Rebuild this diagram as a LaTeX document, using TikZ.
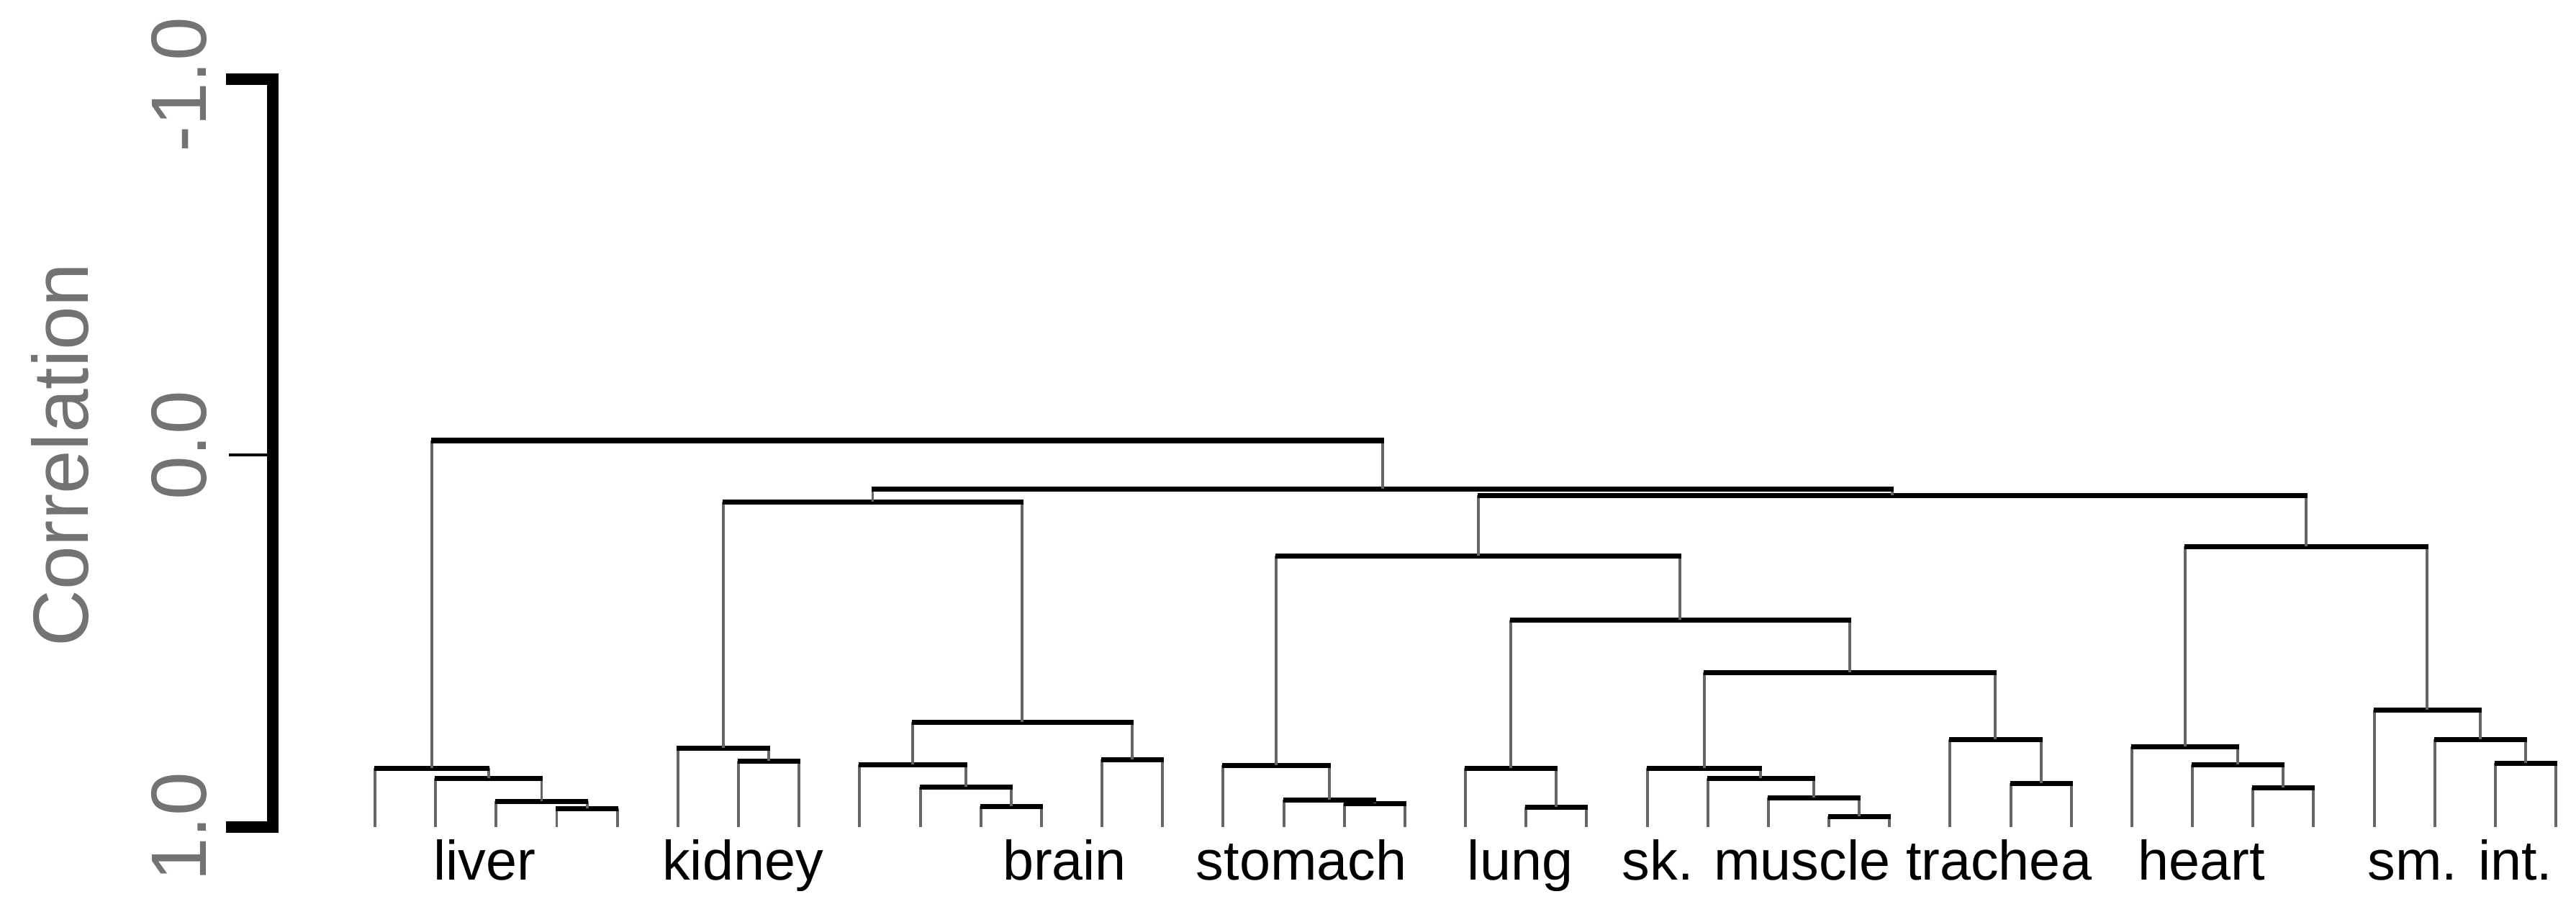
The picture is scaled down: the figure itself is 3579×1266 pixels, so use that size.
\documentclass[tikz,border=0pt]{standalone}
\usepackage{fontspec}
\setmainfont{Liberation Sans}
\begin{document}
\begin{tikzpicture}[x=0.01cm,y=-0.01cm,
  vl/.style={draw=black!60,line width=1.1pt},
  hb/.style={draw=black,line width=2pt},
  lab/.style={font=\fontsize{22}{24}\selectfont,text=black,anchor=base},
  axl/.style={font=\fontsize{31}{33}\selectfont,text=black!55,rotate=90}]
\useasboundingbox (0,0) rectangle (3579,1266);
\newcommand\mg[5]{\draw[vl] (#1,#2)--(#1,#5); \draw[vl] (#3,#4)--(#3,#5); \draw[hb] (#1-1.5,#5)--(#3+1.5,#5);}
\def\B{1149}
% axis
\draw[line width=4.3pt] (314,110)--(379,110)--(379,1149)--(314,1149);
\draw[line width=1.2pt] (318,632)--(379,632);
\node[axl] (ax1) at (249,118) {-1.0};
\node[axl] (ax0) at (249,619) {0.0};
\node[axl] (axm) at (249,1149) {1.0};
\node[axl] (corr) at (84,632) {Correlation};
% liver
\mg{773.5}{\B}{857.7}{\B}{1123}
\mg{689.3}{\B}{815.6}{1123}{1113}
\mg{605.2}{\B}{752.5}{1113}{1081}
\mg{521}{\B}{678.9}{1081}{1067}
% kidney
\mg{1026}{\B}{1110}{\B}{1057}
\mg{941.9}{\B}{1068}{1057}{1039}
% brain
\mg{1363}{\B}{1447}{\B}{1120}
\mg{1279}{\B}{1405}{1120}{1093}
\mg{1194}{\B}{1342}{1093}{1062}
\mg{1531}{\B}{1615}{\B}{1055}
\mg{1268}{1062}{1573}{1055}{1003}
\mg{1005}{1039}{1420}{1003}{697}
% stomach
\mg{1868}{\B}{1952}{\B}{1116}
\mg{1784}{\B}{1910}{1116}{1111}
\mg{1699}{\B}{1847}{1111}{1063}
% lung
\mg{2120}{\B}{2204}{\B}{1121}
\mg{2036}{\B}{2162}{1121}{1067}
% sk muscle
\mg{2541}{\B}{2625}{\B}{1134}
\mg{2457}{\B}{2583}{1134}{1108}
\mg{2373}{\B}{2520}{1108}{1081}
\mg{2289}{\B}{2446}{1081}{1067}
% trachea
\mg{2794}{\B}{2878}{\B}{1088}
\mg{2709}{\B}{2836}{1088}{1027}
\mg{2368}{1067}{2772}{1027}{934}
\mg{2099}{1067}{2570}{934}{861}
\mg{1773}{1063}{2334}{861}{772}
% heart
\mg{3130}{\B}{3214}{\B}{1094}
\mg{3046}{\B}{3172}{1094}{1062}
\mg{2962}{\B}{3109}{1062}{1037}
% sm int
\mg{3467}{\B}{3551}{\B}{1060}
\mg{3383}{\B}{3509}{1060}{1027}
\mg{3299}{\B}{3446}{1027}{986}
\mg{3036}{1037}{3372}{986}{759}
\mg{2054}{772}{3204}{759}{688}
\mg{1212.5}{697}{2629}{688}{679}
\mg{600}{1067}{1921}{679}{612}
% labels
\node[lab] (l1) at (673,1222) {liver};
\node[lab] (l2) at (1032,1222) {kidney};
\node[lab] (l3) at (1479,1222) {brain};
\node[lab] (l4) at (1808,1222) {stomach};
\node[lab] (l5) at (2112,1222) {lung};
\node[lab] (l6) at (2440,1222) {sk. muscle};
\node[lab] (l7) at (2777,1222) {trachea};
\node[lab] (l8) at (3059,1222) {heart};
\node[lab] (l9) at (3418,1222) {sm. int.};
\end{tikzpicture}
\end{document}
